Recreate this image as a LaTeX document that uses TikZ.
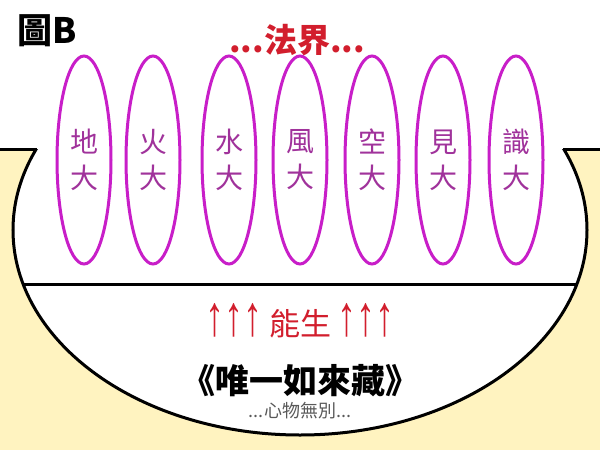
\documentclass[tikz,border=0pt]{standalone}
\usepackage{fontspec}
\setmainfont{Noto Sans CJK TC}
\newfontfamily\arrowfont{Liberation Sans}
\usetikzlibrary{shapes.geometric}
\definecolor{bgyellow}{RGB}{255,243,192}
\definecolor{ringmag}{RGB}{200,30,200}
\definecolor{labpurple}{RGB}{160,50,155}
\definecolor{titlered}{RGB}{210,30,45}
\newcommand{\uparrows}{\scalebox{1}[1.5]{\arrowfont\fontsize{38}{38}\selectfont ↑↑↑}}

\begin{document}
\begin{tikzpicture}[x=1pt,y=-1pt,
  elem/.style={ellipse,draw=ringmag,line width=3pt,minimum width=54pt,minimum height=208pt,
    inner sep=0pt,align=center,text=labpurple,font=\fontsize{28}{36}\selectfont},
  bowl/.style={draw=black,line width=3pt}]

\useasboundingbox (0,0) rectangle (600,450);

% ground
\fill[bgyellow] (0,149) rectangle (600,450);
\fill[white] (300,230) ellipse [x radius=287, y radius=205];
\begin{scope}
\clip (0,149) rectangle (600,450);
\draw[bowl] (300,230) ellipse [x radius=287, y radius=205];
\end{scope}
\draw[bowl] (0,149) -- (37,149);
\draw[bowl] (563,149) -- (600,149);
% divider
\begin{scope}
\clip (300,230) ellipse [x radius=287, y radius=205];
\draw[bowl] (0,284) -- (600,284);
\end{scope}

% headings
\node[font=\bfseries\fontsize{35}{35}\selectfont] (fig) at (47,31) {圖B};
\node[text=titlered,font=\bfseries\fontsize{33}{33}\selectfont] (realm) at (297,40) {...法界...};

% the seven elements
\node[elem] (earth) at (84,160) {地\\大};
\node[elem] (fire) at (153,160) {火\\大};
\node[elem] (water) at (229,160) {水\\大};
\node[elem] (wind) at (300,160) {風\\大};
\node[elem] (space) at (372,160) {空\\大};
\node[elem] (view) at (443,160) {見\\大};
\node[elem] (mind) at (516,160) {識\\大};

% base
\node[text=titlered,font=\fontsize{31}{31}\selectfont] (gen) at (300,321) {\uparrows{} 能生 \uparrows};
\node[font=\bfseries\fontsize{34}{34}\selectfont] (store) at (300,381) {《唯一如來藏》};
\node[text=black!65,font=\fontsize{18}{18}\selectfont] (same) at (300,411) {...心物無別...};

\end{tikzpicture}
\end{document}
